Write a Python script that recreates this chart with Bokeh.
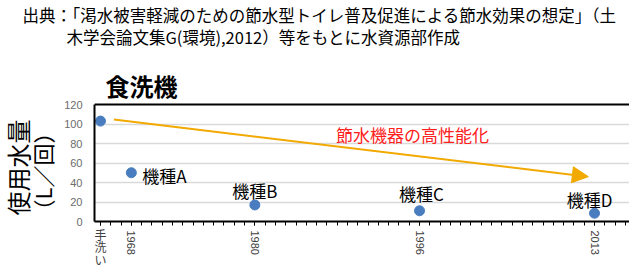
import math
from bokeh.plotting import figure
from bokeh.models import (Range1d, FixedTicker, LinearAxis, Label, Arrow, NormalHead,
                          ColumnDataSource, Title, Span)
from bokeh.embed import file_html
from bokeh.resources import INLINE

# ---- data ----
point_names = ["手洗い", "機種A", "機種B", "機種C", "機種D"]
years = [1965, 1968, 1980, 1996, 2013]
water_use = [103, 50, 17, 11, 8.5]
y_ticks = [0, 20, 40, 60, 80, 100, 120]
x_major_ticks = [1965, 1968, 1980, 1996, 2013]
x_tick_labels = ["手\n洗\nい", "1968", "1980", "1996", "2013"]
minor_years = list(range(1965, 2017))
arrow_start = (1966.3, 104.5)
arrow_end = (2012.4, 46)

title_text = "食洗機"
ylabel_1 = "使用水量"
ylabel_2 = "（L／回）"
source_1 = "出典：「渇水被害軽減のための節水型トイレ普及促進による節水効果の想定」（土"
source_2 = "木学会論文集G(環境),2012）等をもとに水資源部作成"
trend_text = "節水機器の高性能化"

W, H = 629, 272
FL, FT, FB = 94, 56, 221   # frame left / top / bottom in page pixels
AXIS_TOP = 104             # page y of the value 120
Y_MAX = 120 * (FB - FT) / (FB - AXIS_TOP)
JP = "Noto Sans CJK JP"
LAT = "Liberation Sans"

def sx(wx):
    return wx - FL

def sy(wy):
    return FB - wy

p = figure(width=W, height=H, output_backend="svg", toolbar_location=None,
           x_range=Range1d(1964.42, 2016.4), y_range=Range1d(0, Y_MAX),
           min_border_left=FL, min_border_right=0, min_border_top=FT, min_border_bottom=H - FB,
           x_axis_location=None, y_axis_location=None)
p.outline_line_color = None
p.xgrid.grid_line_color = None

# left axis
ly = LinearAxis(ticker=FixedTicker(ticks=y_ticks), bounds=(0, 120))
ly.axis_line_color = "black"
ly.axis_line_width = 2
ly.major_tick_line_color = None
ly.minor_tick_line_color = None
ly.major_tick_out = 0
ly.minor_tick_out = 0
ly.major_label_standoff = 12
ly.major_label_text_font = LAT
ly.major_label_text_font_size = "11px"
ly.major_label_text_color = "#6b6b6b"
p.add_layout(ly, "left")

# y labels as left titles
p.add_layout(Title(text=ylabel_2, align="left", offset=0, text_font=JP, text_font_size="22px",
                   text_font_style="normal", text_color="black", standoff=6.1), "left")
p.add_layout(Title(text=ylabel_1, align="left", offset=6, text_font=JP, text_font_size="24px",
                   text_font_style="normal", text_color="black", standoff=-27.8), "left")

# header as above titles
p.add_layout(Title(text=source_2, align="left", offset=-28, text_font=JP, text_font_size="16.5px",
                   text_font_style="normal", text_color="black", standoff=14.4), "above")
p.add_layout(Title(text=source_1, align="left", offset=-72, text_font=JP, text_font_size="16.5px",
                   text_font_style="normal", text_color="black", standoff=-20.2), "above")

# top border of the chart area
p.add_layout(Span(location=120, dimension="width", line_color="black", line_width=2))

# bottom axis: line, ticks and hand-wash label
bx = LinearAxis(ticker=FixedTicker(ticks=x_major_ticks, minor_ticks=minor_years))
bx.axis_line_color = "black"
bx.axis_line_width = 2
bx.major_tick_in = 0
bx.major_tick_out = 4
bx.minor_tick_in = 0
bx.minor_tick_out = 4
bx.major_tick_line_color = "black"
bx.minor_tick_line_color = "black"
bx.major_label_overrides = {t: (l if t == years[0] else "") for t, l in zip(x_major_ticks, x_tick_labels)}
bx.major_label_orientation = "horizontal"
bx.major_label_standoff = 0
bx.major_label_text_font = JP
bx.major_label_text_font_size = "12px"
bx.major_label_text_line_height = 0.75
bx.major_label_text_color = "#404040"
p.add_layout(bx, "below")

# second bottom axis for the year labels
yx = LinearAxis(ticker=FixedTicker(ticks=x_major_ticks[1:]))
yx.axis_line_color = None
yx.major_tick_line_color = None
yx.minor_tick_line_color = None
yx.major_tick_in = 0
yx.major_tick_out = 0
yx.minor_tick_in = 0
yx.minor_tick_out = 0
yx.major_label_overrides = {t: l for t, l in zip(x_major_ticks[1:], x_tick_labels[1:])}
yx.major_label_orientation = -math.pi / 2
yx.major_label_standoff = -41
yx.major_label_text_font = LAT
yx.major_label_text_font_size = "11px"
yx.major_label_text_color = "#404040"
p.add_layout(yx, "below")

# grid
p.ygrid.ticker = FixedTicker(ticks=y_ticks[:-1])
p.ygrid.grid_line_color = "#d9d9d9"
p.ygrid.grid_line_width = 1.5

# arrow
p.add_layout(Arrow(end=NormalHead(size=16, fill_color="#f2a900", line_color="#f2a900"),
                   x_start=arrow_start[0], y_start=arrow_start[1],
                   x_end=arrow_end[0], y_end=arrow_end[1],
                   line_color="#f2a900", line_width=2))

# points
src = ColumnDataSource(dict(x=years, y=water_use, name=point_names))
p.scatter("x", "y", source=src, size=10, fill_color="#4a7dbf", line_color="#4a7dbf")

# point labels
offsets = {
    "機種A": (11, -2.5, "left"),
    "機種B": (0, 14.5, "center"),
    "機種C": (2, 17, "center"),
    "機種D": (-5, 14, "center"),
}
for n, x, y in zip(point_names, years, water_use):
    if n in offsets:
        dx, dy, al = offsets[n]
        p.add_layout(Label(x=x, y=y, x_offset=dx, y_offset=dy, text=n, text_align=al,
                           text_baseline="middle", text_font=JP, text_font_size="17px",
                           text_color="black"))

# chart title
p.add_layout(Label(x=sx(141), y=sy(85), x_units="screen", y_units="screen", text=title_text,
                   text_align="center", text_baseline="middle", text_font=JP,
                   text_font_size="24px", text_font_style="bold", text_color="black"))

# trend text
p.add_layout(Label(x=sx(412), y=sy(133.5), x_units="screen", y_units="screen", text=trend_text,
                   text_align="center", text_baseline="middle", text_font=JP,
                   text_font_size="17px", text_color="#ff2020"))

open("out.html", "w").write(file_html(p, INLINE))
